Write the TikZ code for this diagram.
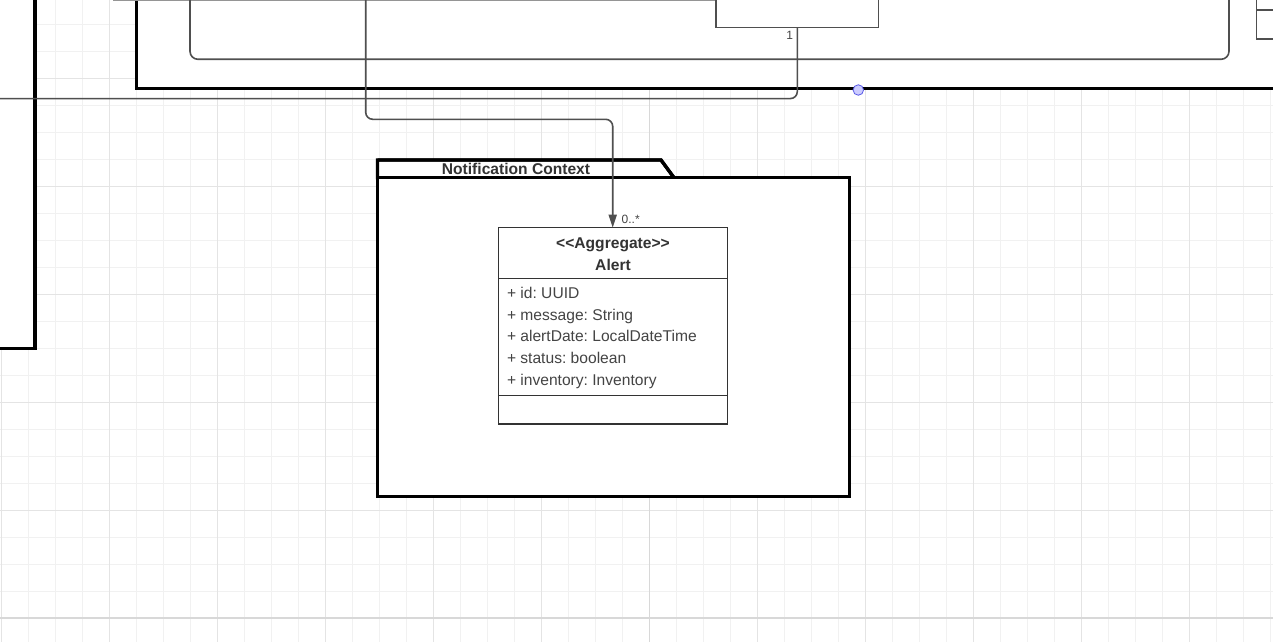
\documentclass[tikz,border=0pt]{standalone}
\usepackage{fontspec}
\setmainfont{Liberation Sans}
\usetikzlibrary{arrows.meta}
\definecolor{gridminor}{HTML}{F1F1F1}
\definecolor{gridmajor}{HTML}{E4E4E4}
\definecolor{gridpage}{HTML}{D8D8D8}
\definecolor{txt}{HTML}{333333}
\definecolor{attrtxt}{HTML}{444444}
\definecolor{edge}{HTML}{4F4F4F}
\definecolor{handlefill}{HTML}{CCCCFF}
\definecolor{handledraw}{HTML}{5A5AE6}
\frenchspacing
\begin{document}
\begin{tikzpicture}[x=1pt,y=-1pt, every node/.style={outer sep=0pt},
  pkg/.style={draw=black, line width=3.3pt, fill=white},
  inner/.style={draw=edge, line width=1.6pt, rounded corners=8pt},
  clsbox/.style={draw=txt, line width=1.3pt, fill=white, inner sep=0pt, anchor=north west},
  conn/.style={draw=edge, line width=1.6pt, rounded corners=7pt},
  mult/.style={text=attrtxt, font=\fontsize{12}{14}\selectfont, inner sep=0pt},
  hdr/.style={text=txt, font=\bfseries\fontsize{15.6}{18}\selectfont, inner sep=0pt, anchor=base},
  attr/.style={text=attrtxt, font=\fontsize{15.6}{18}\selectfont, inner sep=0pt, anchor=base west},
]
\useasboundingbox (0,0) rectangle (1273,642);
\clip (0,0) rectangle (1273,642);
\fill[white] (0,0) rectangle (1273,642);
% grid
\foreach \i in {0,...,47} \draw[gridminor, line width=0.8pt] ({1.5+27*\i},0) -- ({1.5+27*\i},642);
\foreach \j in {0,...,24} \draw[gridminor, line width=0.8pt] (0,{-2.5+27*\j}) -- (1273,{-2.5+27*\j});
\foreach \i in {0,...,11} \draw[gridmajor, line width=0.9pt] ({1.5+108*\i},0) -- ({1.5+108*\i},642);
\foreach \j in {0,...,5} \draw[gridmajor, line width=0.9pt] (0,{78.5+108*\j}) -- (1273,{78.5+108*\j});
\draw[gridpage, line width=1.2pt] (649.5,0) -- (649.5,642);
\draw[gridpage, line width=1.2pt] (0,618) -- (1273,618);

% left package (cut off)
\draw[pkg] (-20,-20) rectangle (35,348.3);
% top package (cut off)
\draw[pkg] (136.3,-20) rectangle (1295,88.3);
\draw[draw=edge!60, line width=1.2pt] (113,0.6) -- (716,0.6);
\draw[inner] (190,-30) -- (190,59.3) -- (1229,59.3) -- (1229,-30);
\node[draw=edge, line width=1.4pt, fill=white, inner sep=0pt, anchor=north west,
      minimum width=162.7pt, minimum height=40pt] (invbox) at (716,-12.7) {};
\node[draw=edge, line width=1.4pt, fill=white, inner sep=0pt, anchor=north west,
      minimum width=40pt, minimum height=60pt] (rightbox) at (1256.5,-21) {};
\draw[draw=edge, line width=1.4pt] (1256.5,10) -- (1290,10);
\node[circle, draw=handledraw, fill=handlefill, line width=0.8pt, minimum size=10.5pt, inner sep=0pt] (handle) at (858.3,90) {};

% Notification Context package
\draw[pkg] (377.5,177.7) -- (377.5,160) -- (661,160) -- (674,177.7) -- cycle;
\node[draw=black, line width=3.3pt, fill=white, inner sep=0pt, anchor=north west,
      minimum width=471.8pt, minimum height=319pt] (notifpkg) at (377.5,177.7) {};
\draw[black, line width=3.3pt] (377.5,160) -- (661,160) -- (674,177.7);
\node[text=txt, font=\bfseries\fontsize{15.6}{18}\selectfont, inner sep=0pt, anchor=base] (pkglabel) at (516,174.3) {Notification Context};

% Alert class
\node[clsbox, minimum width=229.4pt, minimum height=196.3pt] (alert) at (498.3,227.7) {};
\draw[draw=txt, line width=1.3pt] ([yshift=-50.6pt]alert.north west) -- ([yshift=-50.6pt]alert.north east);
\draw[draw=txt, line width=1.3pt] ([yshift=-168pt]alert.north west) -- ([yshift=-168pt]alert.north east);
\node[hdr] (stereo) at (613,248.3) {<\kern0pt<Aggregate>\kern0pt>};
\node[hdr] (alertname) at (613,270) {Alert};
\node[attr] (a1) at (507,298.3) {+ id: UUID};
\node[attr] (a2) at (507,320) {+ message: String};
\node[attr] (a3) at (507,341.8) {+ alertDate: LocalDateTime};
\node[attr] (a4) at (507,363.5) {+ status: boolean};
\node[attr] (a5) at (507,385.3) {+ inventory: Inventory};

% connectors
\coordinate (srcTop) at (365.7,-10);
\coordinate (leftEnd) at (-10,98.6);
\draw[conn] (invbox.south -| 797.3,0) -- (797.3,98.6) -- (leftEnd);
\draw[conn, -{Triangle[length=13pt,width=8pt]}] (srcTop) -- (365.7,119.3) -- (612.7,119.3) -- (alert.north -| 612.7,0);
\node[mult, anchor=base west] (m0) at (621.7,223.3) {0..*};
\node[mult] (m1) at (789.7,35.5) {1};
\end{tikzpicture}
\end{document}
